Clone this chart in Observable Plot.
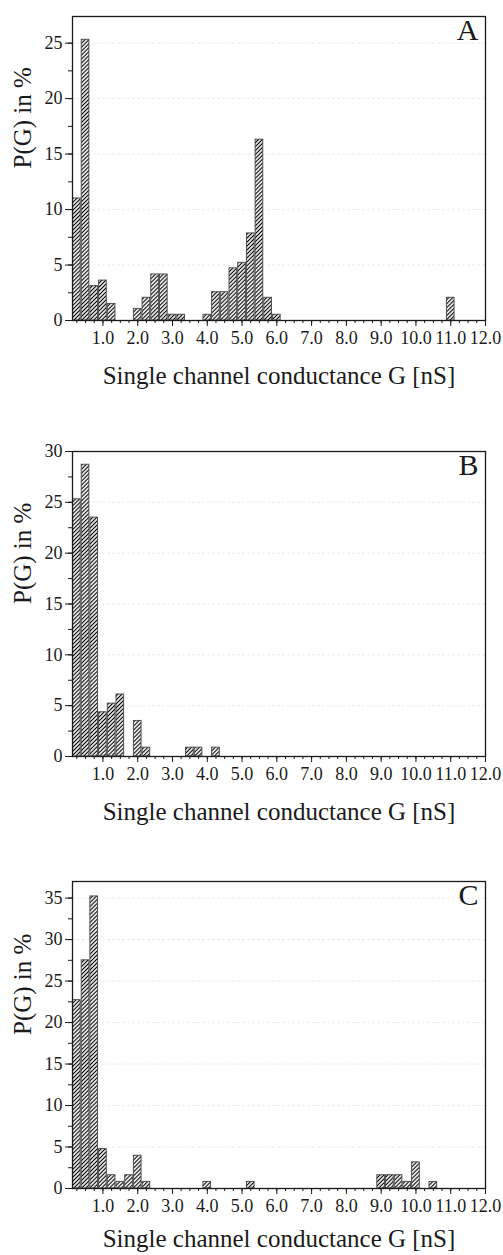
<!DOCTYPE html>
<html>
<head>
<meta charset="utf-8">
<script src="https://cdn.jsdelivr.net/npm/d3@7"></script>
<script src="https://cdn.jsdelivr.net/npm/@observablehq/plot@0.6"></script>
<style>
  html, body { margin: 0; padding: 0; background: #fff; }
  #charts svg { display: block; }
  #charts svg, #charts svg text { font-family: "Liberation Serif", "Times New Roman", serif !important; }
</style>
</head>
<body>
<svg width="0" height="0" style="position:absolute">
  <defs>
    <pattern id="hatch" patternUnits="userSpaceOnUse" width="2.8" height="2.8" patternTransform="rotate(45)">
      <rect width="2.8" height="2.8" fill="#fff"></rect>
      <line x1="1.4" y1="0" x2="1.4" y2="2.8" stroke="#000" stroke-width="1.15"></line>
    </pattern>
  </defs>
</svg>
<div id="charts"></div>
<script>
// ---- data (bin centres in nS, probability in %) ----
const gA = [0.25, 0.5, 0.75, 1.0, 1.25, 2.0, 2.25, 2.5, 2.75, 3.0, 3.25, 4.0, 4.25, 4.5, 4.75, 5.0, 5.25, 5.5, 5.75, 6.0, 11.0];
const pA = [11.0, 25.3, 3.1, 3.6, 1.5, 1.05, 2.05, 4.15, 4.15, 0.52, 0.52, 0.52, 2.55, 2.55, 4.7, 5.2, 7.85, 16.3, 2.05, 0.52, 2.05];

const gB = [0.25, 0.5, 0.75, 1.0, 1.25, 1.5, 2.0, 2.25, 3.5, 3.75, 4.25];
const pB = [25.3, 28.7, 23.5, 4.35, 5.2, 6.1, 3.5, 0.87, 0.87, 0.87, 0.87];

const gC = [0.25, 0.5, 0.75, 1.0, 1.25, 1.5, 1.75, 2.0, 2.25, 4.0, 5.25, 9.0, 9.25, 9.5, 9.75, 10.0, 10.5];
const pC = [22.7, 27.5, 35.2, 4.75, 1.6, 0.8, 1.6, 3.95, 0.8, 0.8, 0.8, 1.6, 1.6, 1.6, 0.8, 3.15, 0.8];

const panelLetters = ["A", "B", "C"];
const yTopValues = [27.4, 30, 37];
const yMajorTicksA = [0, 5, 10, 15, 20, 25];
const yMajorTicksB = [0, 5, 10, 15, 20, 25, 30];
const yMajorTicksC = [0, 5, 10, 15, 20, 25, 30, 35];
const xMajorTicks = [1, 2, 3, 4, 5, 6, 7, 8, 9, 10, 11, 12];
const xTitle = "Single channel conductance G [nS]";
const yTitle = "P(G) in %";
const binWidth = 0.25;

const xMinor = d3.range(1, 48).map(i => i * binWidth);
function yMinor(top) { return d3.range(0, Math.floor(top / 2.5) + 1).map(i => i * 2.5); }

function panel(g, p, letter, yTop, yMajor, layout) {
  const data = g.map((v, i) => ({g: v, p: p[i]}));
  return Plot.plot({
    width: 503,
    height: layout.height,
    marginLeft: 72,
    marginRight: 18,
    marginTop: layout.top,
    marginBottom: layout.bottom,
    style: {fontSize: "18px", color: "#1a1a1a", background: "#fff"},
    x: {domain: [0.125, 12], axis: null, label: null},
    y: {domain: [0, yTop], axis: null, label: null},
    marks: [
      Plot.gridY(yMajor.filter(d => d > 0), {stroke: "#d0d0d0", strokeOpacity: 0.45, strokeDasharray: "3,2"}),
      Plot.rectY(data, {
        x1: d => d.g - binWidth / 2,
        x2: d => d.g + binWidth / 2,
        y1: 0,
        y2: "p",
        fill: "url(#hatch)",
        stroke: "#444",
        strokeWidth: 0.9,
        insetLeft: 0.5,
        insetRight: 0.5
      }),
      Plot.axisX({ticks: xMinor, tickSize: 3, text: null, label: null, stroke: "#1a1a1a"}),
      Plot.axisX({ticks: xMajorTicks, tickSize: 6, tickPadding: 5, label: null, tickFormat: d => d.toFixed(1), fontSize: 18, stroke: "#1a1a1a"}),
      Plot.axisY({ticks: yMinor(yTop), tickSize: 4, text: null, label: null, stroke: "#1a1a1a"}),
      Plot.axisY({ticks: yMajor, tickSize: 7, tickPadding: 3, label: null, fontSize: 18, stroke: "#1a1a1a"}),
      Plot.frame({stroke: "#1a1a1a", strokeWidth: 1.3}),
      Plot.text([letter], {frameAnchor: "top-right", dx: -7, dy: 2, lineAnchor: "top", fontSize: 30, text: d => d}),
      Plot.text([xTitle], {frameAnchor: "bottom", dy: layout.titleDy, lineAnchor: "middle", fontSize: 25, text: d => d}),
      Plot.text([yTitle], {frameAnchor: "left", dx: -50, rotate: -90, lineAnchor: "middle", fontSize: 25, text: d => d})
    ]
  });
}

const root = document.getElementById("charts");
root.append(panel(gA, pA, panelLetters[0], yTopValues[0], yMajorTicksA, {height: 430, top: 16, bottom: 110, titleDy: 55}));
root.append(panel(gB, pB, panelLetters[1], yTopValues[1], yMajorTicksB, {height: 430, top: 21, bottom: 104, titleDy: 55}));
root.append(panel(gC, pC, panelLetters[2], yTopValues[2], yMajorTicksC, {height: 395, top: 21, bottom: 67, titleDy: 50}));
</script>
</body>
</html>
